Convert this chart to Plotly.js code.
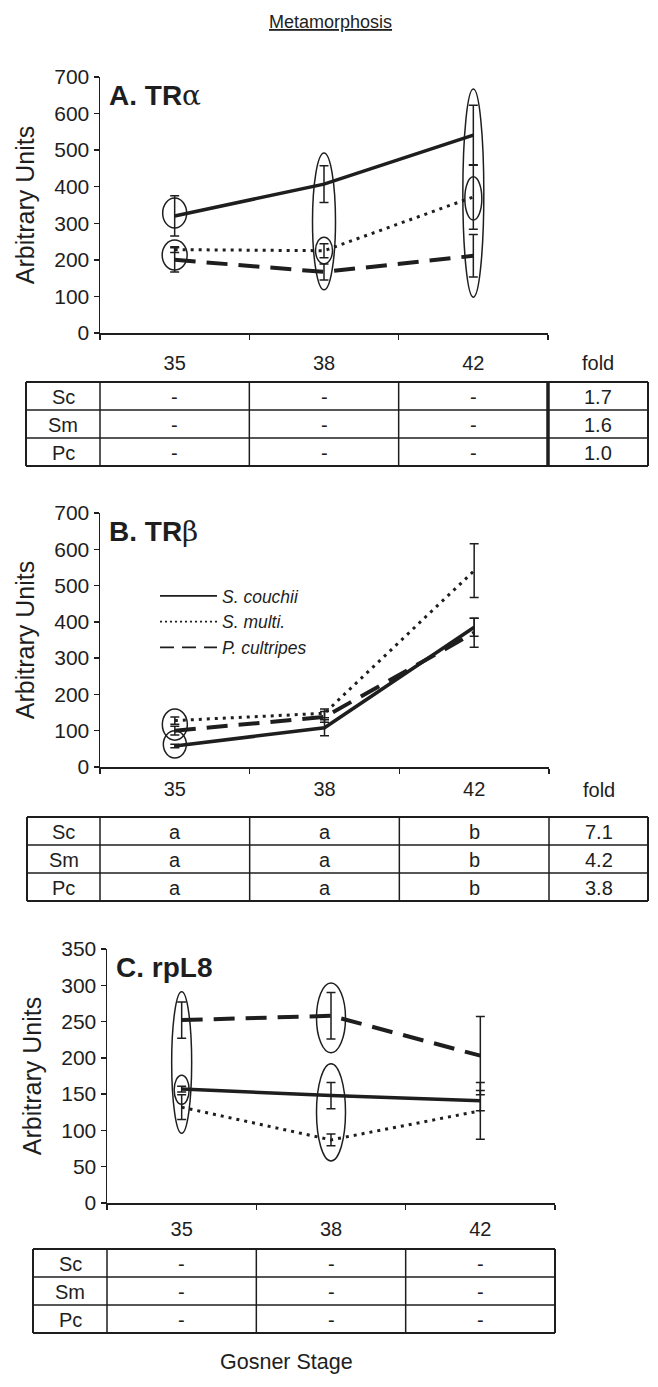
<!DOCTYPE html>
<html><head><meta charset="utf-8">
<script src="https://cdn.plot.ly/plotly-3.0.1.min.js"></script>
<style>html,body{margin:0;padding:0;background:#fff}#chart{width:658px;height:1387px}</style>
</head><body><div id="chart"></div>
<script>
// ---------- DATA ----------
const stages = ["35", "38", "42"];
const seriesNames = ["S. couchii", "S. multi.", "P. cultripes"];
const rowLabels = ["Sc", "Sm", "Pc"];

// Panel A: TRα
const aSc = [320, 407, 541], aScErr = [55, 50, 82];
const aSm = [228, 225, 372], aSmErr = [8, 19, 88];
const aPc = [200, 167, 211], aPcErr = [33, 22, 58];
const aTable = [["-", "-", "-"], ["-", "-", "-"], ["-", "-", "-"]];
const aFold = ["1.7", "1.6", "1.0"];
const aEllStage = [0, 0, 1, 1, 2, 2];
const aEllLow = [287, 172, 118, 189, 98, 309];
const aEllHigh = [369, 254, 492, 262, 667, 427];

// Panel B: TRβ
const bSc = [58, 108, 385], bScErr = [5, 22, 25];
const bSm = [128, 148, 541], bSmErr = [10, 12, 74];
const bPc = [100, 138, 370], bPcErr = [12, 15, 40];
const bTable = [["a", "a", "b"], ["a", "a", "b"], ["a", "a", "b"]];
const bFold = ["7.1", "4.2", "3.8"];
const bEllStage = [0, 0];
const bEllLow = [74, 25];
const bEllHigh = [160, 100];

// Panel C: rpL8
const cSc = [157, 148, 141], cScErr = [4, 18, 14];
const cSm = [132, 87, 127], cSmErr = [17, 8, 39];
const cPc = [252, 258, 203], cPcErr = [25, 32, 54];
const cTable = [["-", "-", "-"], ["-", "-", "-"], ["-", "-", "-"]];
const cEllStage = [0, 0, 1, 1];
const cEllLow = [96, 136, 207, 58];
const cEllHigh = [291, 176, 303, 192];

// ---------- STYLE / GEOMETRY ----------
const W = 658, H = 1387;
const FONT = "Liberation Sans, Arial, Helvetica, sans-serif";
const INK = "#1e1e1e";
const px = v => v / W, py = v => 1 - v / H;
const lineStyles = [
  {color: INK, width: 3.5, dash: "solid"},
  {color: INK, width: 3, dash: "3px,5px"},
  {color: INK, width: 4, dash: "21px,11px"}
];
const legendStyles = [
  {color: INK, width: 1.8, dash: "solid"},
  {color: INK, width: 1.8, dash: "2px,3px"},
  {color: INK, width: 1.8, dash: "14px,8px"}
];
const panels = [
  {id: "", l: 100, r: 548, t: 77, b: 333, ymax: 700, dtick: 100, standoff: 11,
   title: "<b>A. TR</b><span style='font-family:DejaVu Serif'>α</span>",
   ser: [[aSc, aScErr], [aSm, aSmErr], [aPc, aPcErr]],
   ell: [aEllStage, aEllLow, aEllHigh], ellW: [24, 25, 23, 17, 21, 17],
   table: aTable, fold: aFold, tableTop: 382, tableLeft: 26, foldThick: true, foldLabelY: 363},
  {id: "2", l: 100, r: 549, t: 513, b: 767, ymax: 700, dtick: 100, standoff: 3,
   title: "<b>B. TR</b><span style='font-family:DejaVu Serif'>β</span>",
   ser: [[bSc, bScErr], [bSm, bSmErr], [bPc, bPcErr]],
   ell: [bEllStage, bEllLow, bEllHigh], ellW: [25, 23],
   table: bTable, fold: bFold, tableTop: 817, tableLeft: 27, foldThick: false, foldLabelY: 790},
  {id: "3", l: 107, r: 555, t: 949, b: 1203, ymax: 350, dtick: 50, standoff: 7,
   title: "<b>C. rpL8</b>",
   ser: [[cSc, cScErr], [cSm, cSmErr], [cPc, cPcErr]],
   ell: [cEllStage, cEllLow, cEllHigh], ellW: [20, 15, 29, 29],
   table: cTable, fold: null, tableTop: 1249, tableLeft: 33, foldThick: false}
];
const ROW_H = 28, FOLD_R = 648;

const traces = [], shapes = [], annotations = [];
const layout = {
  width: W, height: H, margin: {l: 0, r: 0, t: 0, b: 0},
  paper_bgcolor: "#fff", plot_bgcolor: "rgba(0,0,0,0)",
  font: {family: FONT, color: INK},
  showlegend: true,
  legend: {x: px(155), y: py(578), xanchor: "left", yanchor: "top",
    bgcolor: "rgba(0,0,0,0)", font: {family: FONT, size: 17.5, style: "italic", color: INK},
    itemwidth: 57, tracegroupgap: 0, itemclick: false, itemdoubleclick: false}
};

panels.forEach((p, pi) => {
  const xa = "x" + p.id, ya = "y" + p.id;
  layout["xaxis" + p.id] = {
    domain: [px(p.l), px(p.r)], anchor: ya, type: "category", categoryarray: stages,
    range: [-0.5, 2.5], tickson: "boundaries", ticks: "outside", ticklen: 5, tickwidth: 1.5,
    tickcolor: INK, showline: true, linecolor: INK, linewidth: 1.5, showgrid: false,
    zeroline: false, tickfont: {family: FONT, size: 20, color: INK},
    ticklabelstandoff: p.standoff, fixedrange: true, automargin: false
  };
  layout["yaxis" + p.id] = {
    domain: [py(p.b), py(p.t)], anchor: xa, range: [0, p.ymax], dtick: p.dtick,
    ticks: "outside", ticklen: 5, tickwidth: 1.5, tickcolor: INK, showline: true,
    linecolor: INK, linewidth: 1.5, showgrid: false, zeroline: false,
    tickfont: {family: FONT, size: 21, color: INK}, fixedrange: true, automargin: false,
    title: {text: "Arbitrary Units", font: {family: FONT, size: 25, color: INK}, standoff: 12}
  };
  p.ser.forEach((s, si) => {
    traces.push({
      type: "scatter", mode: "lines", x: stages, y: s[0], xaxis: xa, yaxis: ya,
      name: seriesNames[si], showlegend: false, line: lineStyles[si],
      error_y: {type: "data", array: s[1], visible: true, color: INK, thickness: 1.5, width: 4.5},
      hoverinfo: "skip"
    });
  });
  const catW = (p.r - p.l) / 3;
  p.ell[0].forEach((st, k) => {
    const hw = p.ellW[k] / 2 / catW;
    shapes.push({type: "circle", xref: xa, yref: ya, x0: st - hw, x1: st + hw,
      y0: p.ell[1][k], y1: p.ell[2][k], line: {color: INK, width: 1.5}});
  });
  annotations.push({xref: "paper", yref: "paper", x: px(p.l + 7), y: py(p.t + 18),
    xanchor: "left", yanchor: "middle", showarrow: false, text: p.title,
    font: {family: FONT, size: 28, color: INK}});
  const cols = [p.tableLeft, p.l, p.l + catW, p.l + 2 * catW, p.r];
  if (p.fold) cols.push(FOLD_R);
  const right = cols[cols.length - 1];
  const top = p.tableTop, bottom = top + 3 * ROW_H;
  for (let k = 0; k <= 3; k++) {
    const yy = top + k * ROW_H;
    shapes.push({type: "line", xref: "paper", yref: "paper", x0: px(p.tableLeft), x1: px(right),
      y0: py(yy), y1: py(yy), line: {color: INK, width: (k === 0 || k === 3) ? 2 : 1.5}});
  }
  cols.forEach((cx, ci) => {
    const thick = p.foldThick && ci === 4;
    shapes.push({type: "line", xref: "paper", yref: "paper", x0: px(cx), x1: px(cx),
      y0: py(top), y1: py(bottom),
      line: {color: INK, width: thick ? 3.5 : ((ci === 0 || ci === cols.length - 1) ? 2 : 1.5)}});
  });
  rowLabels.forEach((rl, ri) => {
    const cy = top + (ri + 0.5) * ROW_H;
    const cells = [rl].concat(p.table[ri]);
    if (p.fold) cells.push(p.fold[ri]);
    cells.forEach((txt, ci) => {
      annotations.push({xref: "paper", yref: "paper", x: px((cols[ci] + cols[ci + 1]) / 2),
        y: py(cy + 1), xanchor: "center", yanchor: "middle", showarrow: false, text: txt,
        font: {family: FONT, size: 20, color: INK}});
    });
  });
  if (p.fold) {
    annotations.push({xref: "paper", yref: "paper", x: px((p.r + FOLD_R) / 2), y: py(p.foldLabelY),
      xanchor: "center", yanchor: "middle", showarrow: false, text: "fold",
      font: {family: FONT, size: 20, color: INK}});
  }
});

seriesNames.forEach((n, si) => {
  traces.push({type: "scatter", mode: "lines", x: [null], y: [null], xaxis: "x2", yaxis: "y2",
    name: n, showlegend: true, line: legendStyles[si], hoverinfo: "skip"});
});

annotations.push({xref: "paper", yref: "paper", x: px(330), y: py(22), xanchor: "center",
  yanchor: "middle", showarrow: false, text: "<u>Metamorphosis</u>",
  font: {family: FONT, size: 18, color: INK}});
annotations.push({xref: "paper", yref: "paper", x: px(286), y: py(1362), xanchor: "center",
  yanchor: "middle", showarrow: false, text: "Gosner Stage",
  font: {family: FONT, size: 21.5, color: INK}});

layout.shapes = shapes;
layout.annotations = annotations;
Plotly.newPlot("chart", traces, layout, {staticPlot: true, displayModeBar: false});
</script></body></html>
